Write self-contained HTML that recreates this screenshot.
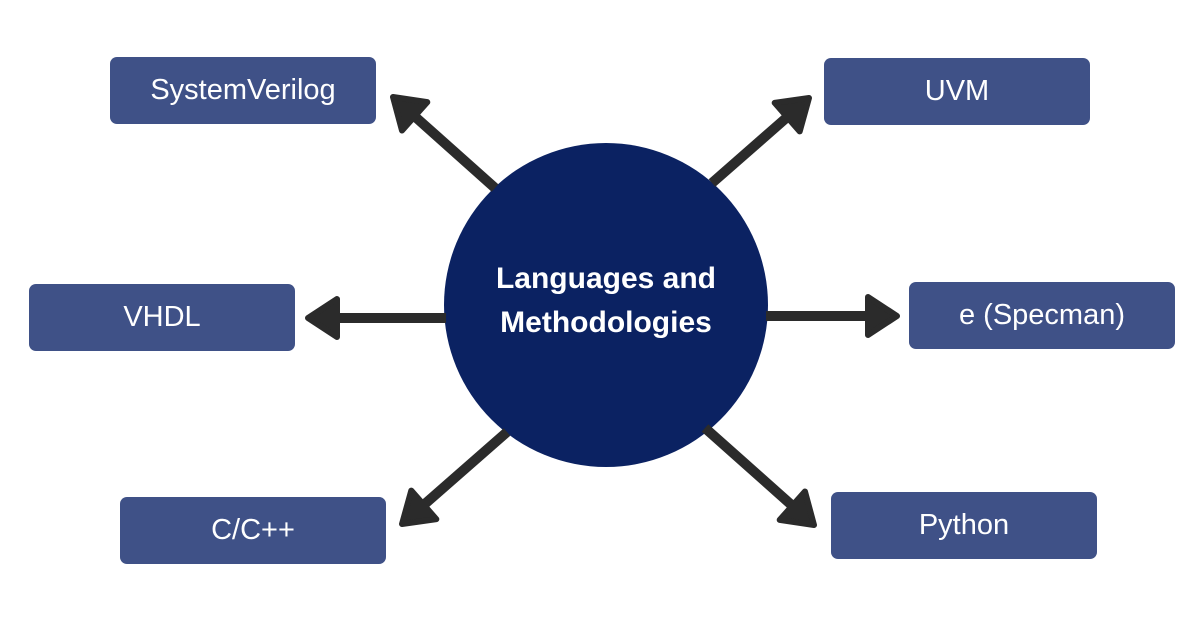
<!DOCTYPE html>
<html><head><meta charset="utf-8"><style>
html,body{margin:0;padding:0;background:#fff;}
body{width:1200px;height:628px;position:relative;overflow:hidden;font-family:"Liberation Sans",sans-serif;}
.b{position:absolute;width:266px;height:67px;background:#3f5187;border-radius:7px;color:#fff;font-size:29px;display:flex;align-items:center;justify-content:center;}
</style></head><body>
<svg id="s" width="1200" height="628" style="position:absolute;left:0;top:0">
<circle cx="606" cy="305" r="162" fill="#0b2262"/>
<g id="ar" fill="#2b2b2b" stroke="#2b2b2b" stroke-linejoin="round" stroke-width="6"></g>
</svg>
<div class="b" style="left:110px;top:57px">SystemVerilog</div>
<div class="b" style="left:824px;top:58px">UVM</div>
<div class="b" style="left:29px;top:284px">VHDL</div>
<div class="b" style="left:909px;top:282px">e (Specman)</div>
<div class="b" style="left:120px;top:497px">C/C++</div>
<div class="b" style="left:831px;top:492px">Python</div>
<div style="position:absolute;left:444px;top:257px;width:324px;text-align:center;color:#fff;font-weight:bold;font-size:30px;line-height:44px">Languages and<br>Methodologies</div>
<script>
var A=[[495,188,393,97],[712,183,809,98],[446,318,308,318],[766,316,897,316],[507,432,402,524],[705,428,814,525]];
var g=document.getElementById('ar'),h='';
A.forEach(function(a){var dx=a[2]-a[0],dy=a[3]-a[1],L=Math.hypot(dx,dy),ux=dx/L,uy=dy/L,px=-uy,py=ux;
var bx=a[2]-ux*29,by=a[3]-uy*29;
h+='<line x1="'+a[0]+'" y1="'+a[1]+'" x2="'+bx+'" y2="'+by+'" stroke-width="10"/>';
h+='<polygon points="'+a[2]+','+a[3]+' '+(bx+px*19)+','+(by+py*19)+' '+(bx-px*19)+','+(by-py*19)+'"/>';});
g.innerHTML=h;
</script>
</body></html>
